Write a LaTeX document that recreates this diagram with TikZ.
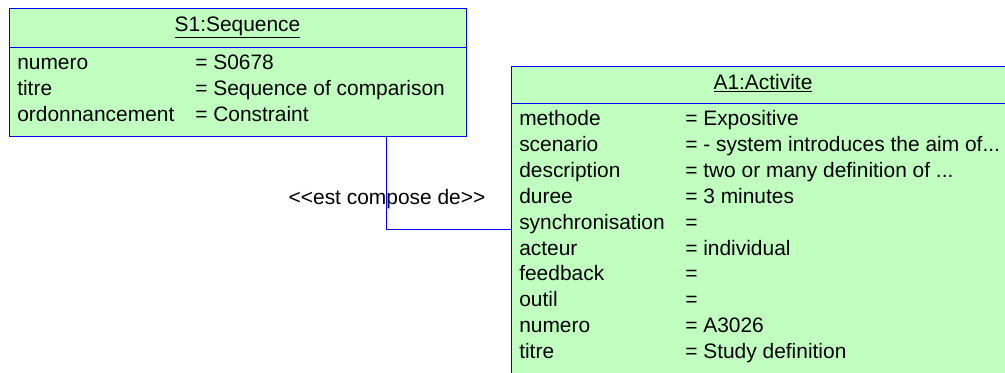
\documentclass[tikz,border=0pt]{standalone}
\usepackage{fontspec}
\setmainfont{Liberation Sans}
\definecolor{boxfill}{HTML}{C0FFC0}
\definecolor{boxline}{HTML}{0000FF}
\tikzset{
  objbox/.style={draw=boxline, fill=boxfill, line width=0.75pt, inner sep=0pt},
  sepline/.style={draw=boxline, line width=0.75pt},
  conn/.style={draw=boxline, line width=0.75pt},
  txt/.style={anchor=base west, inner sep=0pt, font=\fontsize{15.7}{19}\selectfont},
  ttl/.style={anchor=base, inner sep=0pt, font=\fontsize{15.7}{19}\selectfont},
}
\begin{document}
\begin{tikzpicture}[x=0.75pt,y=-0.75pt]
\useasboundingbox (0,0) rectangle (1005,372);
\clip (0,0) rectangle (1005,372);
\fill[white] (0,0) rectangle (1005,372);
% S1 box
\path[objbox] (9,8) rectangle (466,136);
\coordinate (s1sepW) at (9,47);
\coordinate (s1sepE) at (466,47);
\draw[sepline] (s1sepW) -- (s1sepE);
\node[ttl] (s1t) at (237.5,31) {\underline{S1:Sequence}};
\node[txt] (s1a1) at (17,69.5) {numero};
\node[txt] (s1v1) at (195,69.5) {= S0678};
\node[txt] (s1a2) at (17,95.5) {titre};
\node[txt] (s1v2) at (195,95.5) {= Sequence of comparison};
\node[txt] (s1a3) at (17,121.5) {ordonnancement};
\node[txt] (s1v3) at (195,121.5) {= Constraint};
% A1 box
\path[objbox] (511,66) rectangle (1015,390);
\coordinate (a1sepW) at (511,103);
\coordinate (a1sepE) at (1015,103);
\draw[sepline] (a1sepW) -- (a1sepE);
\node[ttl] (a1t) at (763,89) {\underline{A1:Activite}};
\node[txt] (a1a0) at (519,125.5) {methode};
\node[txt] (a1v0) at (685,125.5) {= Expositive};
\node[txt] (a1a1) at (519,151.4) {scenario};
\node[txt] (a1v1) at (685,151.4) {= - system introduces the aim of...};
\node[txt] (a1a2) at (519,177.3) {description};
\node[txt] (a1v2) at (685,177.3) {= two or many definition of ...};
\node[txt] (a1a3) at (519,203.2) {duree};
\node[txt] (a1v3) at (685,203.2) {= 3 minutes};
\node[txt] (a1a4) at (519,229.1) {synchronisation};
\node[txt] (a1v4) at (685,229.1) {=};
\node[txt] (a1a5) at (519,255.0) {acteur};
\node[txt] (a1v5) at (685,255.0) {= individual};
\node[txt] (a1a6) at (519,280.9) {feedback};
\node[txt] (a1v6) at (685,280.9) {=};
\node[txt] (a1a7) at (519,306.8) {outil};
\node[txt] (a1v7) at (685,306.8) {=};
\node[txt] (a1a8) at (519,332.7) {numero};
\node[txt] (a1v8) at (685,332.7) {= A3026};
\node[txt] (a1a9) at (519,358.6) {titre};
\node[txt] (a1v9) at (685,358.6) {= Study definition};
% connector
\node[ttl] (lbl) at (387,204) {<{}<est compose de>{}>};
\coordinate (cstart) at (386,136);
\coordinate (cend) at (511,229);
\draw[conn] (cstart) |- (cend);
\end{tikzpicture}
\end{document}
